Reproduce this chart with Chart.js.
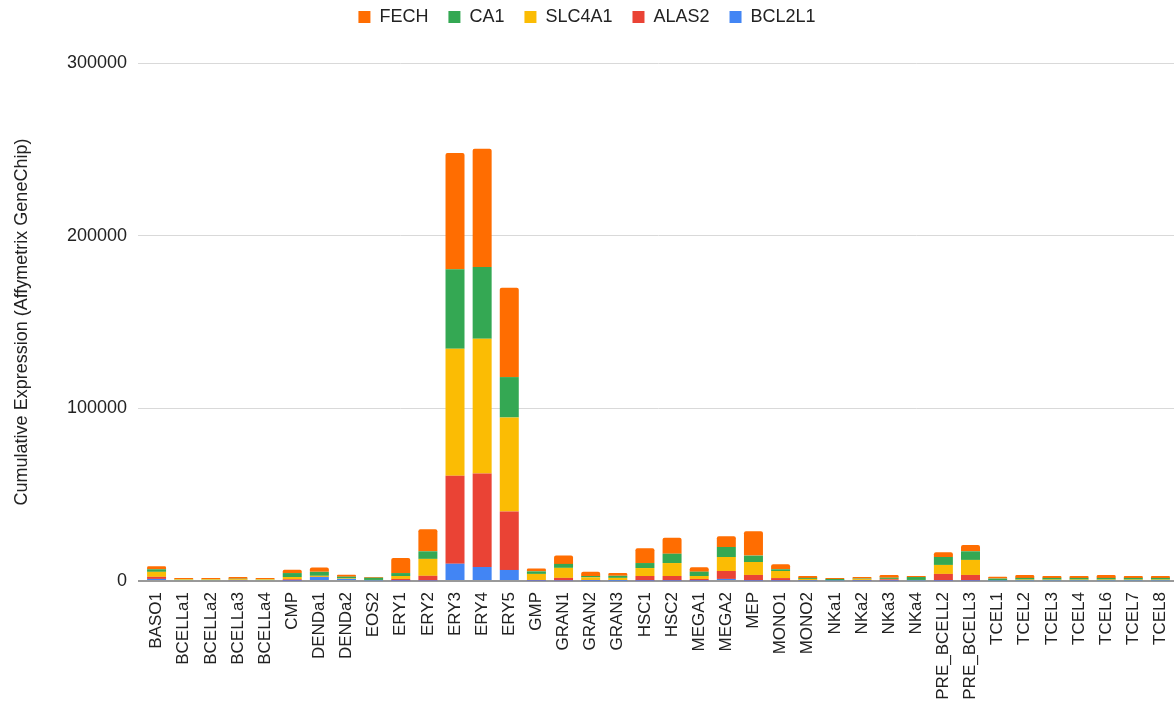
<!DOCTYPE html>
<html>
<head>
<meta charset="utf-8">
<script src="https://cdn.jsdelivr.net/npm/chart.js@4.4.1/dist/chart.umd.min.js"></script>
<style>
  html, body { margin: 0; padding: 0; background: #ffffff; }
  #wrap { width: 1175px; height: 704px; position: relative; }
</style>
</head>
<body>
<div id="wrap"><canvas id="chart" width="1175" height="704"></canvas></div>
<script>
// Cell types on the x axis
const categories = [
  'BASO1','BCELLa1','BCELLa2','BCELLa3','BCELLa4','CMP','DENDa1','DENDa2','EOS2',
  'ERY1','ERY2','ERY3','ERY4','ERY5','GMP','GRAN1','GRAN2','GRAN3','HSC1','HSC2',
  'MEGA1','MEGA2','MEP','MONO1','MONO2','NKa1','NKa2','NKa3','NKa4',
  'PRE_BCELL2','PRE_BCELL3','TCEL1','TCEL2','TCEL3','TCEL4','TCEL6','TCEL7','TCEL8'
];

// Expression per gene (stacked bottom to top: BCL2L1, ALAS2, SLC4A1, CA1, FECH)
const bcl2l1 = [1200,400,400,400,400,200,2300,1200,200,200,300,10000,8100,6400,200,300,100,100,200,200,
  200,1200,200,200,200,300,200,200,200,200,200,300,200,200,200,200,200,200];
const alas2 = [1200,0,0,100,0,800,100,0,0,1000,2700,51000,54100,33800,400,1500,500,200,2700,2700,
  1000,4600,3300,1500,200,0,300,800,0,3900,3300,0,0,0,0,0,0,0];
const slc4a1 = [2900,500,500,500,500,1300,600,300,400,1700,9800,73500,78100,54500,3500,5800,1500,1500,4600,7500,
  1700,8100,7500,4100,800,100,600,200,400,5200,8700,100,600,600,600,600,600,600];
const ca1 = [1500,200,200,300,200,2300,2300,1000,1300,1700,4400,46000,41600,23400,1500,2300,800,1200,2900,5400,
  2500,5800,3700,1000,600,800,300,700,1700,4600,5000,1000,1000,1000,1000,1000,1000,1000];
const fech = [1700,600,600,1000,600,1900,2500,1100,400,8700,12700,67400,68500,51800,1700,4800,2500,1700,8500,9300,
  2500,6200,14100,2900,1100,500,900,1600,600,2700,3700,1000,1700,1100,1100,1700,1100,1100];

// Y axis ticks
const yTicks = [0, 100000, 200000, 300000];

const FONT = '"Liberation Sans", Arial, sans-serif';
const TEXT = '#222222';

// Legend sizing and placement above the plot
const legendPlacement = {
  id: 'legendPlacement',
  beforeInit(chart) {
    const origFit = chart.legend.fit;
    chart.legend.fit = function () {
      origFit.bind(chart.legend)();
      this.height += 15;
    };
  },
  afterLayout(chart) {
    chart.legend.top -= 12;
    chart.legend.bottom -= 12;
  }
};

const barCommon = { barPercentage: 0.70, categoryPercentage: 1.0, borderWidth: 0 };

new Chart(document.getElementById('chart'), {
  type: 'bar',
  data: {
    labels: categories,
    datasets: [
      { label: 'BCL2L1', data: bcl2l1, backgroundColor: '#4285f4', ...barCommon },
      { label: 'ALAS2', data: alas2, backgroundColor: '#ea4335', ...barCommon },
      { label: 'SLC4A1', data: slc4a1, backgroundColor: '#fbbc04', ...barCommon },
      { label: 'CA1', data: ca1, backgroundColor: '#34a853', ...barCommon },
      { label: 'FECH', data: fech, backgroundColor: '#ff6d01', ...barCommon,
        borderRadius: { topLeft: 2, topRight: 2, bottomLeft: 0, bottomRight: 0 }, borderSkipped: false }
    ]
  },
  options: {
    responsive: false,
    animation: false,
    layout: { padding: { top: 0, right: 1, bottom: 0, left: 0 } },
    plugins: {
      legend: {
        position: 'top',
        align: 'center',
        reverse: true,
        labels: {
          boxWidth: 12,
          boxHeight: 12,
          padding: 20,
          color: TEXT,
          font: { family: FONT, size: 18 }
        }
      },
      tooltip: { enabled: false }
    },
    scales: {
      x: {
        stacked: true,
        grid: { display: false, drawTicks: false },
        border: { display: false },
        afterFit(scale) {
          scale.height = 123;
          scale.paddingLeft = 0;
          scale.paddingRight = 0;
        },
        ticks: {
          autoSkip: false,
          minRotation: 90,
          maxRotation: 90,
          padding: 11,
          color: TEXT,
          font: { family: FONT, size: 17 }
        }
      },
      y: {
        stacked: true,
        min: 0,
        max: 300000,
        afterFit(scale) { scale.width = 143; },
        afterBuildTicks(scale) { scale.ticks = yTicks.map(v => ({ value: v })); },
        border: { display: false },
        grid: {
          color: ctx => (ctx.tick && ctx.tick.value === 0) ? '#999999' : '#d9d9d9',
          lineWidth: ctx => (ctx.tick && ctx.tick.value === 0) ? 2 : 1,
          drawTicks: true,
          tickLength: 5
        },
        ticks: {
          padding: 11,
          color: TEXT,
          font: { family: FONT, size: 18 },
          callback: v => String(v)
        },
        title: {
          display: true,
          text: 'Cumulative Expression (Affymetrix GeneChip)',
          color: TEXT,
          font: { family: FONT, size: 18 },
          padding: { top: 11, bottom: 0 }
        }
      }
    }
  },
  plugins: [legendPlacement]
});
</script>
</body>
</html>
